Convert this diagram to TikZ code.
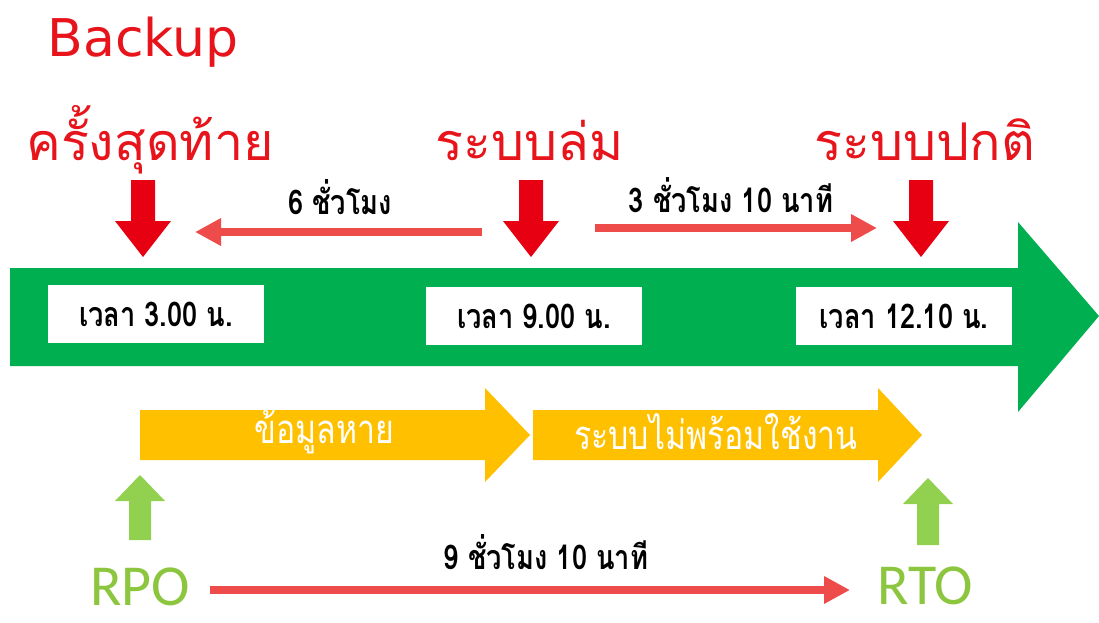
\documentclass[tikz,border=0pt]{standalone}
\usepackage{fontspec}
\usetikzlibrary{arrows.meta}
\newfontfamily\thaihead[Script=Thai]{Loma}
\newfontfamily\thailab[Script=Thai,FakeStretch=0.8]{Loma}
\newfontfamily\latinhead{DejaVu Sans}
\newfontfamily\rfont{Carlito}
\definecolor{headred}{HTML}{E8141B}
\definecolor{blockred}{HTML}{E60012}
\definecolor{thinred}{HTML}{EE4B4B}
\definecolor{tlgreen}{HTML}{00B050}
\definecolor{ylw}{HTML}{FFC000}
\definecolor{lgreen}{HTML}{92D050}
\definecolor{rgreen}{HTML}{8CC63F}
\tikzset{
  head/.style={text=headred, inner sep=0pt, font=\thaihead\fontsize{26}{30}\selectfont},
  lab/.style={text=black, inner sep=0pt, font=\thailab\bfseries\fontsize{17}{20}\selectfont},
  timebox/.style={fill=white, inner sep=0pt, minimum width=108pt, minimum height=29pt, font=\thailab\bfseries\fontsize{17}{20}\selectfont},
  ylab/.style={text=white, inner sep=0pt, font=\thailab\fontsize{20}{24}\selectfont},
  rlab/.style={text=rgreen, inner sep=0pt, font=\rfont\fontsize{29}{32}\selectfont},
  thin/.style={draw=thinred, line width=4pt, -{Triangle[length=13pt,width=13pt]}},
}
\newcommand{\downarrowblock}[1]{\fill[blockred] (#1-12,180) -- (#1+12,180) -- (#1+12,221) -- (#1+28,221) -- (#1,257) -- (#1-28,221) -- (#1-12,221) -- cycle;}
\newcommand{\uparrowblock}[3]{\fill[lgreen] (#1-11,#2) -- (#1+11,#2) -- (#1+11,#3+26) -- (#1+25,#3+26) -- (#1,#3) -- (#1-25,#3+26) -- (#1-11,#3+26) -- cycle;}
\begin{document}
\begin{tikzpicture}[x=0.5pt,y=-0.5pt]
\useasboundingbox (0,0) rectangle (1099,622);
\fill[white] (0,0) rectangle (1099,622);
% headings
\node[head, font=\latinhead\fontsize{26}{30}\selectfont] (backup) at (143,42) {Backup};
\node[head] (last) at (150,140) {ครั้งสุดท้าย};
\node[head] (down) at (530,140) {ระบบล่ม};
\node[head] (normal) at (925,140) {ระบบปกติ};
% red block arrows
\downarrowblock{143}
\downarrowblock{531}
\downarrowblock{921}
% green timeline
\fill[tlgreen] (10,268) -- (1018,268) -- (1018,222) -- (1099,316) -- (1018,412) -- (1018,366) -- (10,366) -- cycle;
\node[timebox] (t1) at (156,314) {เวลา 3.00 น.};
\node[timebox] (t2) at (534,316) {เวลา 9.00 น.};
\node[timebox] (t3) at (904,316) {เวลา 12.10 น.};
% thin red arrows
\coordinate (a1s) at (482,232);
\coordinate (a1e) at (195,232);
\draw[thin] (a1s) -- (a1e);
\node[lab] (l1) at (340,197) {6 ชั่วโมง};
\coordinate (a2s) at (595,228);
\coordinate (a2e) at (877,228);
\draw[thin] (a2s) -- (a2e);
\node[lab] (l2) at (731,195) {3 ชั่วโมง 10 นาที};
% yellow arrows
\fill[ylw] (140,410) -- (485,410) -- (485,388) -- (530,435) -- (485,482) -- (485,460) -- (140,460) -- cycle;
\fill[ylw] (533,410) -- (878,410) -- (878,388) -- (922,435) -- (878,482) -- (878,460) -- (533,460) -- cycle;
\node[ylab] (y1) at (324,432) {ข้อมูลหาย};
\node[ylab] (y2) at (716,432) {ระบบไม่พร้อมใช้งาน};
% green up arrows
\uparrowblock{140}{540}{475}
\uparrowblock{928}{545}{478}
% RPO / RTO
\node[rlab] (rpo) at (140,587) {RPO};
\node[rlab] (rto) at (925,586) {RTO};
\draw[thin] (rpo.east) ++(20,3) coordinate (b1s) -- (850,590) coordinate (b1e);
\node[lab] (l3) at (546,552) {9 ชั่วโมง 10 นาที};
\end{tikzpicture}
\end{document}
